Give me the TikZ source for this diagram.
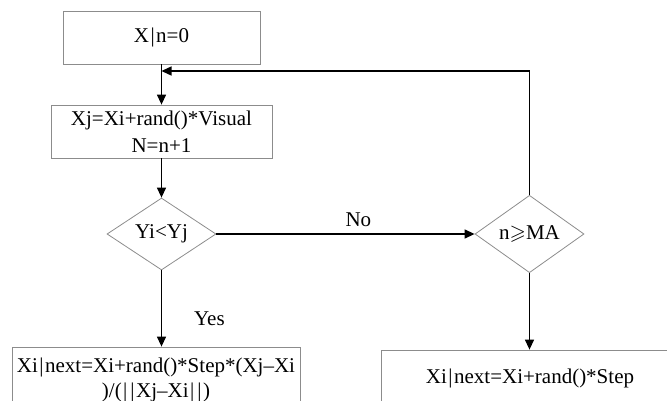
\documentclass[tikz,border=0pt]{standalone}
\usepackage{amssymb}
\usepackage{fontspec}
\setmainfont{Liberation Serif}
\usetikzlibrary{shapes.geometric,arrows.meta}
\newcommand{\vb}{\kern1.5pt|\kern1.5pt}
\begin{document}
\begin{tikzpicture}[x=1pt,y=-1pt,
  every node/.style={font=\fontsize{21}{26}\selectfont},
  procbox/.style={draw=black!45,line width=0.8pt,rectangle,inner sep=0pt,align=center},
  decbox/.style={draw=black!45,line width=0.8pt,diamond,inner sep=0pt,minimum width=109pt,minimum height=72pt},
  conn/.style={draw=black,line width=1.3pt,-{Triangle[length=10pt,width=9pt]}},
  lbl/.style={inner sep=2pt}]
\useasboundingbox (0,0) rectangle (667,401);
\clip (0,0) rectangle (667,401);
\node[procbox,minimum width=197pt,minimum height=53pt] (b1) at (161.5,37.5) {X\vb n=0};
\node[procbox,minimum width=221pt,minimum height=53pt] (b2) at (161.5,131.5) {Xj=Xi+rand()*Visual\\[1pt]N=n+1};
\node[decbox] (d1) at (161.5,234) {Yi<Yj};
\node[decbox] (d2) at (529.5,234) {n$\geqslant$MA};
\node[procbox,minimum width=288pt,minimum height=62pt,text depth=0pt] (b3) at (156,378) {Xi\vb next=Xi+rand()*Step*(Xj–Xi\\[-1pt]{)/(\vb\vb Xj–Xi\vb\vb)}};
\node[procbox,minimum width=298pt,minimum height=56pt] (b4) at (530,378) {Xi\vb next=Xi+rand()*Step};
\coordinate (fb) at (161.5,71);
\draw[conn] (b1.south) -- (b2.north);
\draw[conn] (d2.north) |- (fb);
\draw[conn] (b2.south) -- (d1.north);
\draw[conn] (d1.east) -- node[lbl,above,pos=0.55,yshift=5pt] {No} (d2.west);
\draw[conn] (d1.south) -- node[lbl,right,pos=0.64,xshift=30pt] {Yes} (d1.south |- b3.north);
\draw[conn] (d2.south) -- (d2.south |- b4.north);
\end{tikzpicture}
\end{document}
